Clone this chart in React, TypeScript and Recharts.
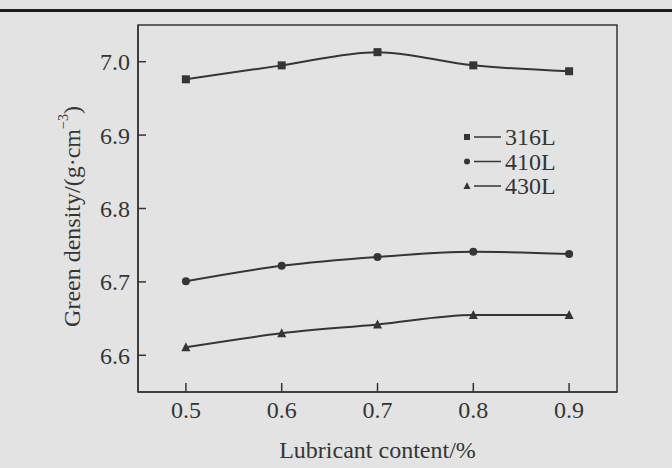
import { LineChart, Line, XAxis, YAxis, ReferenceArea, Legend } from 'recharts'

const lubricant = [0.5, 0.6, 0.7, 0.8, 0.9]
const density316L = [6.976, 6.995, 7.013, 6.995, 6.987]
const density410L = [6.701, 6.722, 6.734, 6.741, 6.738]
const density430L = [6.611, 6.63, 6.642, 6.655, 6.655]
const xTicks = [0.5, 0.6, 0.7, 0.8, 0.9]
const yTicks = [6.6, 6.7, 6.8, 6.9, 7.0]
const seriesNames = ['316L', '410L', '430L']

const INK = '#353535'
const FONT = '"Liberation Serif", "Times New Roman", serif'

const data = lubricant.map((x, i) => ({
  x,
  s316: density316L[i],
  s410: density410L[i],
  s430: density430L[i],
}))

const SquareDot = ({ cx, cy, size = 8 }: any) => (
  <rect x={cx - size / 2} y={cy - size / 2} width={size} height={size} fill={INK} />
)
const CircleDot = ({ cx, cy, size = 8 }: any) => <circle cx={cx} cy={cy} r={size / 2} fill={INK} />
const TriangleDot = ({ cx, cy, size = 8 }: any) => (
  <polygon
    points={`${cx},${cy - size / 2 - 1} ${cx - size / 2 - 0.5},${cy + size / 2} ${cx + size / 2 + 0.5},${cy + size / 2}`}
    fill={INK}
  />
)

const markers = [SquareDot, CircleDot, TriangleDot]

// ticks point into the plot box on both axes
const XTick = ({ x, y, payload }: any) => {
  const axisY = y - 4
  return (
    <g>
      <line x1={x} x2={x} y1={axisY} y2={axisY - 9} stroke={INK} strokeWidth={1.5} />
      <text x={x} y={axisY + 9} dy="0.71em" textAnchor="middle" fontSize={24} fontFamily={FONT} fill={INK}>
        {payload.value.toFixed(1)}
      </text>
    </g>
  )
}

const YTick = ({ x, y, payload }: any) => {
  const axisX = x + 8
  return (
    <g>
      <line x1={axisX} x2={axisX + 8} y1={y} y2={y} stroke={INK} strokeWidth={1.5} />
      <text x={x} y={y} dy="0.35em" textAnchor="end" fontSize={24} fontFamily={FONT} fill={INK}>
        {payload.value.toFixed(1)}
      </text>
    </g>
  )
}

const YTitle = ({ viewBox }: any) => {
  const cx = 72
  const cy = viewBox.y + viewBox.height / 2 + 8
  return (
    <text
      x={cx}
      y={cy}
      transform={`rotate(-90, ${cx}, ${cy})`}
      textAnchor="middle"
      dominantBaseline="central"
      fontSize={24}
      fontFamily={FONT}
      fill={INK}
    >
      Green density/(g·cm
      <tspan fontSize={14} dy={-9}>−3</tspan>
      <tspan dy={9}>)</tspan>
    </text>
  )
}

const LegendBox = () => (
  <svg width={120} height={80} style={{ display: 'block' }}>
    {seriesNames.map((name, i) => {
      const Marker = markers[i]
      const cy = 12 + i * 24.5
      return (
        <g key={name}>
          <Marker cx={7} cy={cy} size={6} />
          <line x1={14} x2={41} y1={cy} y2={cy} stroke={INK} strokeWidth={1.5} />
          <text x={45} y={cy} dominantBaseline="central" fontSize={24} fontFamily={FONT} fill={INK}>
            {name}
          </text>
        </g>
      )
    })}
  </svg>
)

export default function App() {
  return (
    <div style={{ position: 'absolute', left: 0, top: 0, width: 672, height: 468, background: '#e3e3e3' }}>
      <div style={{ position: 'absolute', left: 0, top: 9, width: 672, height: 3, background: '#1e1e1e' }} />
      <LineChart
        width={672}
        height={468}
        data={data}
        margin={{ top: 25, right: 55, bottom: 36, left: 0 }}
      >
        <XAxis
          dataKey="x"
          type="number"
          domain={[0.45, 0.95]}
          ticks={xTicks}
          allowDataOverflow
          height={40}
          axisLine={{ stroke: INK, strokeWidth: 1.5 }}
          tickLine={false}
          tickSize={0}
          tickMargin={4}
          tick={<XTick />}
          label={{
            value: 'Lubricant content/%',
            position: 'insideBottom',
            offset: -26,
            fontSize: 24,
            fontFamily: FONT,
            fill: INK,
          }}
        />
        <YAxis
          type="number"
          domain={[6.55, 7.05]}
          ticks={yTicks}
          allowDataOverflow
          width={138}
          axisLine={{ stroke: INK, strokeWidth: 1.5 }}
          tickLine={false}
          tickSize={0}
          tickMargin={8}
          tick={<YTick />}
          label={<YTitle />}
        />
        <ReferenceArea x1={0.45} x2={0.95} y1={6.55} y2={7.05} fill="none" stroke={INK} strokeWidth={1.5} />
        <Legend
          layout="horizontal"
          verticalAlign="middle"
          align="center"
          content={<LegendBox />}
          wrapperStyle={{ left: 460, top: 125, width: 120 }}
        />
        <Line type="monotone" dataKey="s316" name="316L" stroke={INK} strokeWidth={2} dot={<SquareDot />} isAnimationActive={false} />
        <Line type="monotone" dataKey="s410" name="410L" stroke={INK} strokeWidth={2} dot={<CircleDot />} isAnimationActive={false} />
        <Line type="monotone" dataKey="s430" name="430L" stroke={INK} strokeWidth={2} dot={<TriangleDot />} isAnimationActive={false} />
      </LineChart>
    </div>
  )
}
